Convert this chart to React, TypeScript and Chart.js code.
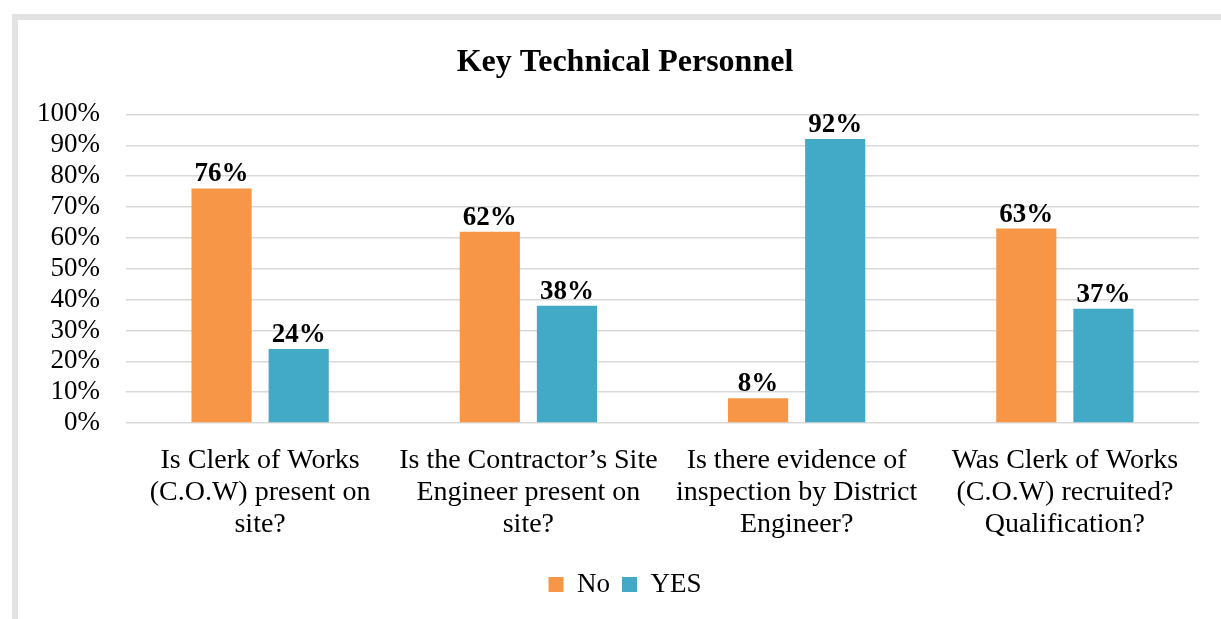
import React, { useEffect, useRef } from "react";
import { Chart, registerables } from "chart.js";

Chart.register(...registerables);

const title = "Key Technical Personnel";
const categories: string[][] = [
  ["Is Clerk of Works", "(C.O.W) present on", "site?"],
  ["Is the Contractor’s Site", "Engineer present on", "site?"],
  ["Is there evidence of", "inspection by District", "Engineer?"],
  ["Was Clerk of Works", "(C.O.W) recruited?", "Qualification?"],
];
const seriesNames = ["No", "YES"];
const noValues = [76, 62, 8, 63];
const yesValues = [24, 38, 92, 37];
const colors = ["#F79646", "#42AAC6"];

const FONT = "'Liberation Serif', 'Times New Roman', serif";

const dataLabelPlugin = {
  id: "dataLabels",
  afterDatasetsDraw(chart: any) {
    const ctx = chart.ctx;
    ctx.save();
    ctx.font = `bold 27px ${FONT}`;
    ctx.fillStyle = "#000";
    ctx.textAlign = "center";
    ctx.textBaseline = "alphabetic";
    chart.data.datasets.forEach((ds: any, i: number) => {
      const meta = chart.getDatasetMeta(i);
      meta.data.forEach((bar: any, j: number) => {
        ctx.fillText(`${ds.data[j]}%`, bar.x, bar.y - 7);
      });
    });
    ctx.restore();
  },
};

export default function App() {
  const ref = useRef<HTMLCanvasElement>(null);
  useEffect(() => {
    if (!ref.current) return;
    const chart = new Chart(ref.current, {
      type: "bar",
      data: {
        labels: categories,
        datasets: [
          { label: seriesNames[0], data: noValues, backgroundColor: colors[0], yAxisID: "y" },
          { label: seriesNames[1], data: yesValues, backgroundColor: colors[1], yAxisID: "y" },
        ],
      },
      options: {
        animation: false,
        responsive: false,
        maintainAspectRatio: false,
        layout: { padding: { left: 30, right: 1, top: 0, bottom: 11 } },
        datasets: { bar: { categoryPercentage: 0.575, barPercentage: 0.78 } },
        plugins: {
          title: {
            display: true,
            text: title,
            color: "#000",
            font: { family: FONT, size: 32, weight: "bold", lineHeight: 1.2 },
            padding: { top: 44, bottom: 32 },
          },
          legend: {
            position: "bottom",
            labels: {
              color: "#000",
              font: { family: FONT, size: 27 },
              boxWidth: 15,
              boxHeight: 15,
              padding: 12,
            },
          },
          tooltip: { enabled: false },
        },
        scales: {
          x: {
            grid: { display: false, drawTicks: false },
            border: { display: false },
            ticks: {
              color: "#000",
              font: { family: FONT, size: 28, lineHeight: 1.143 },
              padding: 22,
              autoSkip: false,
              maxRotation: 0,
              minRotation: 0,
            },
            afterFit: (s: any) => { s.height = 136; },
          },
          y: {
            min: 0,
            max: 100,
            grid: { color: "#d9d9d9", lineWidth: 1.5, drawTicks: false },
            border: { display: false },
            ticks: {
              stepSize: 10,
              autoSkip: false,
              color: "#000",
              font: { family: FONT, size: 27 },
              padding: 26,
              callback: (v: any) => `${v}%`,
            },
            afterFit: (s: any) => { s.width = 96; },
          },
          yPad: {
            position: "right",
            display: true,
            grid: { display: false, drawTicks: false },
            border: { display: false },
            ticks: { display: false },
            afterFit: (s: any) => { s.width = 21; },
          },
        },
      },
      plugins: [dataLabelPlugin],
    });
    return () => chart.destroy();
  }, []);

  return (
    <div style={{ position: "fixed", left: 0, top: 0, width: 1221, height: 619, background: "#fff", overflow: "hidden" }}>
      <div
        style={{
          position: "absolute",
          left: 12,
          top: 14,
          right: 0,
          bottom: 0,
          borderLeft: "6px solid #e2e2e2",
          borderTop: "6px solid #e2e2e2",
        }}
      />
      <canvas ref={ref} width={1221} height={619} style={{ position: "absolute", left: 0, top: 0 }} />
    </div>
  );
}
